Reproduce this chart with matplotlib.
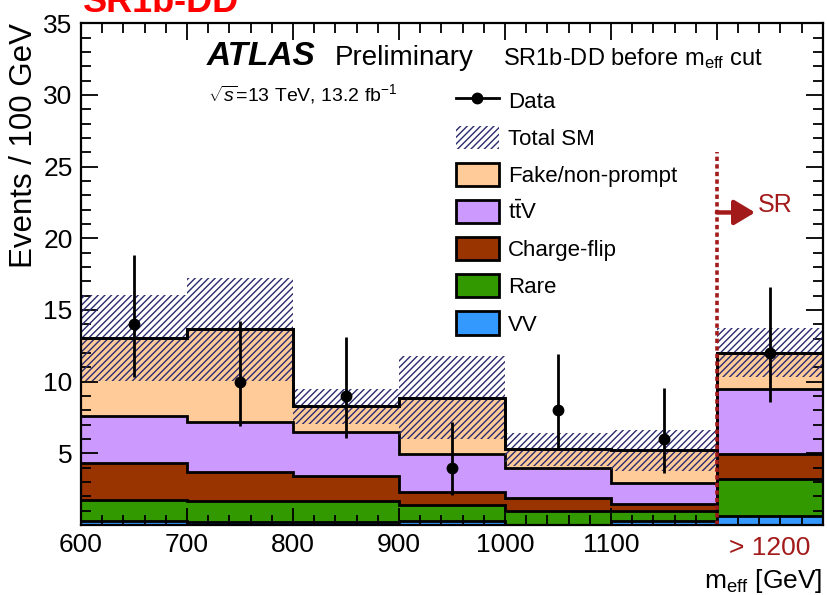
import numpy as np
import matplotlib
matplotlib.use("Agg")
import matplotlib.pyplot as plt
from matplotlib.patches import Patch
from matplotlib.lines import Line2D
from matplotlib.ticker import MultipleLocator

plt.rcParams["font.family"] = ["Liberation Sans", "DejaVu Sans"]
plt.rcParams["mathtext.fontset"] = "custom"
plt.rcParams["mathtext.rm"] = "Liberation Sans"
plt.rcParams["mathtext.it"] = "Liberation Sans:italic"
plt.rcParams["mathtext.bf"] = "Liberation Sans:bold"
plt.rcParams["hatch.linewidth"] = 1.0

# ---- data ----
bin_edges = [600, 700, 800, 900, 1000, 1100, 1200, 1300]
vv = [0.30, 0.20, 0.23, 0.28, 0.00, 0.25, 0.63]
rare = [1.44, 1.49, 1.44, 1.11, 1.00, 0.75, 2.57]
charge_flip = [2.62, 1.98, 1.74, 0.93, 0.90, 0.44, 1.74]
ttv = [3.23, 3.55, 3.08, 2.62, 2.09, 1.50, 4.57]
fake = [5.47, 6.42, 1.79, 3.95, 1.28, 2.26, 2.51]
sm_unc = [3.0, 3.6, 1.2, 2.9, 1.15, 1.4, 1.7]
data = [14, 10, 9, 4, 8, 6, 12]
data_err_lo = [3.70, 3.11, 2.94, 1.91, 2.77, 2.38, 3.44]
data_err_hi = [4.83, 4.26, 4.11, 3.16, 3.94, 3.58, 4.57]
x_tick_values = [600, 700, 800, 900, 1000, 1100, 1200, 1300]
x_tick_labels = ["600", "700", "800", "900", "1000", "1100", "", ""]
y_tick_values = [5, 10, 15, 20, 25, 30, 35]
sr_cut = 1200

# ---- styles ----
components = [
    ("VV", vv, "#3399ff"),
    ("Rare", rare, "#339900"),
    ("Charge-flip", charge_flip, "#993300"),
    ("t$\\bar{\\mathrm{t}}$V", ttv, "#cc99ff"),
    ("Fake/non-prompt", fake, "#ffcc99"),
]
hatch_color = "#2a2a6e"
hatch_style = "/////"
sr_color = "#a31a1a"

edges = np.array(bin_edges, dtype=float)
centers = 0.5 * (edges[:-1] + edges[1:])

fig = plt.figure(figsize=(8.27, 5.95), dpi=100)
ax = fig.add_axes([0.098, 0.1176, 0.897, 0.8434])

# cumulative stack, drawn from the top layer downward
cum = []
running = np.zeros(len(centers))
for name, vals, col in components:
    running = running + np.array(vals)
    cum.append(running.copy())
for (name, vals, col), level in reversed(list(zip(components, cum))):
    ax.stairs(level, edges, baseline=0, fill=True, facecolor=col,
              edgecolor="none", linewidth=0, zorder=1)
    ax.stairs(level, edges, baseline=None, color="black", linewidth=2,
              zorder=1.5)

total = cum[-1]
unc = np.array(sm_unc)
ax.stairs(total + unc, edges, baseline=total - unc, fill=True,
          facecolor="none", edgecolor=hatch_color, hatch=hatch_style,
          linewidth=0, zorder=2)
ax.stairs(total, edges, baseline=None, color="black", linewidth=2, zorder=3)

ax.errorbar(centers, data, yerr=[data_err_lo, data_err_hi], fmt="o",
            color="black", ms=7.5, lw=2, capsize=0, zorder=5)

# signal-region cut marker
ax.plot([sr_cut, sr_cut], [0, 26.0], color=sr_color, lw=2.6,
        ls=(0, (1.2, 0.9)), zorder=6)
ax.annotate("", xy=(sr_cut + 36, 21.8), xytext=(sr_cut, 21.8),
            arrowprops=dict(arrowstyle="-|>,head_length=0.45,head_width=0.27",
                            color=sr_color, lw=3.2, mutation_scale=28,
                            shrinkA=0, shrinkB=0),
            zorder=6)
ax.text(sr_cut + 39, 22.3, "SR", color=sr_color, fontsize=18,
        va="center", ha="left")

# axes
ax.set_xlim(600, 1300)
ax.set_ylim(0, 35)
ax.set_xticks(x_tick_values)
ax.set_xticklabels(x_tick_labels)
ax.set_yticks(y_tick_values)
ax.xaxis.set_minor_locator(MultipleLocator(20))
ax.yaxis.set_minor_locator(MultipleLocator(1))
ax.tick_params(which="both", direction="in", top=True, right=True,
               labelsize=19, width=1.3)
ax.tick_params(which="major", length=12, pad=6)
ax.tick_params(which="minor", length=7)
for s in ax.spines.values():
    s.set_linewidth(1.6)
    s.set_zorder(10)
ax.text(1250, -0.022, "> 1200", transform=ax.get_xaxis_transform(),
        ha="center", va="top", fontsize=19, color=sr_color)

ax.set_xlabel("m$_{\\mathrm{eff}}$ [GeV]", fontsize=19, loc="right",
              labelpad=7)
ax.set_ylabel("Events / 100 GeV", fontsize=22.5, loc="top", labelpad=3)

# labels
ax.text(0.170, 0.916, "ATLAS", transform=ax.transAxes, fontsize=24,
        fontweight="bold", fontstyle="italic")
ax.text(0.342, 0.916, "Preliminary", transform=ax.transAxes, fontsize=20)
ax.text(0.171, 0.845, "$\\sqrt{s}$=13 TeV, 13.2 fb$^{-1}$",
        transform=ax.transAxes, fontsize=14)
ax.text(0.569, 0.916, "SR1b-DD before m$_{\\mathrm{eff}}$ cut",
        transform=ax.transAxes, fontsize=17)

fig.text(0.1, 1 - 12 / 595, "SR1b-DD", color="red", fontsize=26,
         fontweight="bold", va="baseline")

# legend
handles = [
    Line2D([], [], color="black", marker="o", ms=7.5, lw=2),
    Patch(facecolor="none", edgecolor=hatch_color, hatch=hatch_style, lw=0),
]
labels = ["Data", "Total SM"]
for name, vals, col in reversed(components):
    handles.append(Patch(facecolor=col, edgecolor="black", lw=2))
    labels.append(name)
ax.legend(handles, labels, loc="upper left", bbox_to_anchor=(0.505, 0.8695),
          frameon=False, fontsize=16, handlelength=1.94, handleheight=1.22,
          labelspacing=0.59, handletextpad=0.4, borderpad=0,
          borderaxespad=0)

fig.savefig("out.png", dpi=100)
